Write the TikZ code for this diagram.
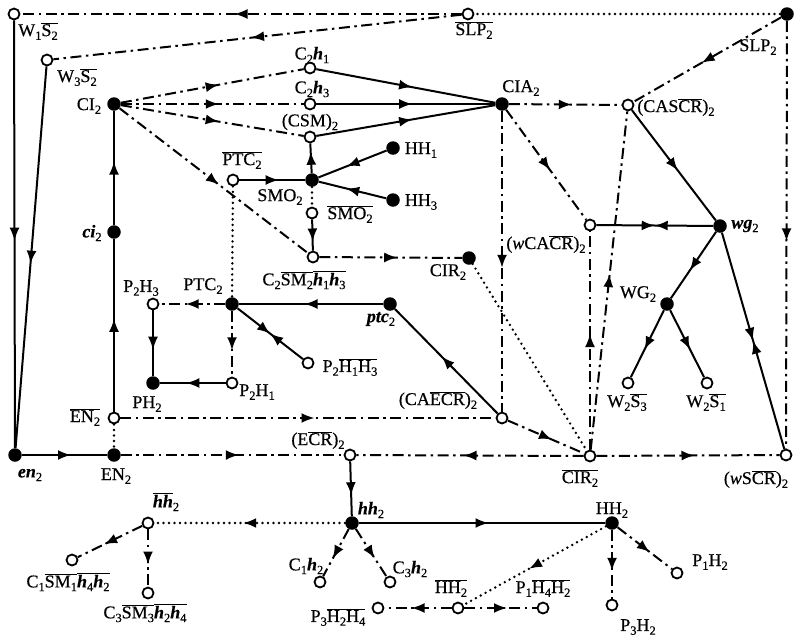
\documentclass[tikz,border=0pt]{standalone}
\usepackage{fontspec}
\setmainfont{Liberation Serif}[FakeBold=0.5]
\usetikzlibrary{arrows.meta,decorations.markings}
\newcommand\sbx[1]{\raisebox{-0.45ex}{\fontsize{12.5}{12.5}\selectfont #1}}
\newcommand\ovl[1]{$\overline{\mbox{#1}}$}
\newcommand\bix[1]{\textbf{\textit{#1}}}
\tikzset{
  op/.style={circle,draw,fill=white,line width=1.8pt,minimum size=11pt,inner sep=0pt},
  fi/.style={circle,fill=black,minimum size=13.5pt,inner sep=0pt},
  lbl/.style={inner sep=0pt},
  sl/.style={line width=2pt},
  dd/.style={line width=2pt,dash pattern=on 11pt off 4.5pt on 2.5pt off 4.5pt},
  dt/.style={line width=2.7pt,line cap=round,dash pattern=on 0pt off 5.5pt},
  tipA/.tip={Latex[length=13pt,width=10pt]},
  ma/.style={postaction={decorate,decoration={markings,mark=at position #1 with {\pgftransformxshift{6.5pt}\arrow{tipA}}}}},
  ma/.default=0.5,
  mm/.style={postaction={decorate,decoration={markings,mark=at position #1 with {\arrow{tipA}\arrowreversed{tipA}}}}},
  mm/.default=0.5
}
\begin{document}
\begin{tikzpicture}[x=1pt,y=-1pt,font=\fontsize{18}{20}\selectfont]
\useasboundingbox (0,0) rectangle (800,643);
% nodes
\node[op] (W1S2) at (14,14) {};
\node[op] (SLPb) at (468,14) {};
\node[fi] (TR) at (787,14) {};
\node[op] (W3S2) at (47,60) {};
\node[op] (C2h1) at (310,68) {};
\node[op] (C2h3) at (310,104) {};
\node[op] (CSM2) at (310,137) {};
\node[fi] (CI2) at (114,104) {};
\node[fi] (CIA2) at (502,104) {};
\node[op] (CASCR) at (628,105) {};
\node[op] (PTCb) at (233,180) {};
\node[fi] (SMO2) at (312,180) {};
\node[fi] (HH1) at (393,148) {};
\node[fi] (HH3) at (393,200) {};
\node[op] (SMOb) at (312,213) {};
\node[op] (C2SM) at (313,257) {};
\node[fi] (CIR2) at (469,258) {};
\node[op] (wCACR) at (590,225) {};
\node[fi] (wg2) at (720,226) {};
\node[fi] (ci2) at (114,232) {};
\node[fi] (PTC2) at (232,304) {};
\node[op] (P2H3) at (153,304) {};
\node[fi] (ptc2) at (390,304) {};
\node[fi] (WG2) at (667,304) {};
\node[op] (P2H1H3) at (308,363) {};
\node[fi] (PH2) at (153,383) {};
\node[op] (P2H1) at (232,383) {};
\node[op] (W2S3) at (628,383) {};
\node[op] (W2S1) at (707,383) {};
\node[op] (EN2b) at (114,418) {};
\node[op] (CAECR) at (502,418) {};
\node[fi] (en2) at (15,455) {};
\node[fi] (EN2) at (114,455) {};
\node[op] (ECR2) at (350,455) {};
\node[op] (CIRb) at (590,456) {};
\node[op] (wSCR) at (786,455) {};
\node[op] (hh2b) at (148,523) {};
\node[fi] (hh2) at (352,523) {};
\node[fi] (HH2) at (612,523) {};
\node[op] (C1SM) at (72,560) {};
\node[op] (C1h2) at (320,582) {};
\node[op] (C3h2) at (390,582) {};
\node[op] (C3SM) at (148,593) {};
\node[op] (P1H2) at (677,573) {};
\node[op] (P3H2) at (612,605) {};
\node[op] (P3H2H4) at (378,608) {};
\node[op] (HH2b) at (458,608) {};
\node[op] (P1H4H2) at (543,608) {};
% labels
\node[lbl] (lW1S2) at (38,31) {W\sbx{1}\ovl{S\sbx{2}}};
\node[lbl] (lSLPb) at (474,30) {\ovl{SLP\sbx{2}}};
\node[lbl] (lTR) at (758,47) {SLP\sbx{2}};
\node[lbl] (lW3S2) at (77,77) {W\sbx{3}\ovl{S\sbx{2}}};
\node[lbl] (lC2h1) at (312,55) {C\sbx{2}\bix{h}\sbx{1}};
\node[lbl] (lC2h3) at (312,89) {C\sbx{2}\bix{h}\sbx{3}};
\node[lbl] (lCSM2) at (310,122) {(CSM)\sbx{2}};
\node[lbl] (lCI2) at (89,106) {CI\sbx{2}};
\node[lbl] (lCIA2) at (521,88) {CIA\sbx{2}};
\node[lbl] (lCASCR) at (676,107) {(CAS\ovl{CR})\sbx{2}};
\node[lbl] (lPTCb) at (242,160) {\ovl{PTC\sbx{2}}};
\node[lbl] (lSMO2) at (280,197) {SMO\sbx{2}};
\node[lbl] (lSMOb) at (350,214) {\ovl{SMO\sbx{2}}};
\node[lbl] (lHH1) at (421,150) {HH\sbx{1}};
\node[lbl] (lHH3) at (421,202) {HH\sbx{3}};
\node[lbl] (lC2SM) at (304,280) {C\sbx{2}\ovl{SM\sbx{2}}\ovl{\bix{h}\sbx{1}}\ovl{\bix{h}\sbx{3}}};
\node[lbl] (lCIR2) at (448,272) {CIR\sbx{2}};
\node[lbl] (lwCACR) at (546,244) {(\textit{w}CA\ovl{CR})\sbx{2}};
\node[lbl] (lwg2) at (745,226) {\bix{wg}\sbx{2}};
\node[lbl] (lWG2) at (638,294) {WG\sbx{2}};
\node[lbl] (lW2S3) at (627,402) {W\sbx{2}\ovl{S\sbx{3}}};
\node[lbl] (lW2S1) at (706,402) {W\sbx{2}\ovl{S\sbx{1}}};
\node[lbl] (lci2) at (92,233) {\bix{ci}\sbx{2}};
\node[lbl] (lP2H3) at (141,288) {P\sbx{2}H\sbx{3}};
\node[lbl] (lPTC2) at (203,286) {PTC\sbx{2}};
\node[lbl] (lptc2) at (381,319) {\bix{ptc}\sbx{2}};
\node[lbl] (lP2H1H3) at (350,367) {P\sbx{2}\ovl{H\sbx{1}}\ovl{H\sbx{3}}};
\node[lbl] (lPH2) at (147,404) {PH\sbx{2}};
\node[lbl] (lP2H1) at (257,392) {P\sbx{2}H\sbx{1}};
\node[lbl] (lEN2b) at (85,417) {\ovl{EN\sbx{2}}};
\node[lbl] (lCAECR) at (438,400) {(CA\ovl{ECR})\sbx{2}};
\node[lbl] (len2) at (30,475) {\bix{en}\sbx{2}};
\node[lbl] (lEN2) at (116,476) {EN\sbx{2}};
\node[lbl] (lECR2) at (318,440) {(E\ovl{CR})\sbx{2}};
\node[lbl] (lCIRb) at (580,478) {\ovl{CIR\sbx{2}}};
\node[lbl] (lwSCR) at (756,479) {(\textit{w}S\ovl{CR})\sbx{2}};
\node[lbl] (lhh2b) at (166,502) {\ovl{\bix{hh}}\sbx{2}};
\node[lbl] (lhh2) at (371,510) {\bix{hh}\sbx{2}};
\node[lbl] (lHH2) at (612,510) {HH\sbx{2}};
\node[lbl] (lC1SM) at (68,582) {C\sbx{1}\ovl{SM\sbx{1}}\ovl{\bix{h}\sbx{4}}\ovl{\bix{h}\sbx{2}}};
\node[lbl] (lC3SM) at (145,613) {C\sbx{3}\ovl{SM\sbx{3}}\ovl{\bix{h}\sbx{2}}\ovl{\bix{h}\sbx{4}}};
\node[lbl] (lC1h2) at (306,566) {C\sbx{1}\bix{h}\sbx{2}};
\node[lbl] (lC3h2) at (410,569) {C\sbx{3}\bix{h}\sbx{2}};
\node[lbl] (lP3H2H4) at (338,617) {P\sbx{3}\ovl{H\sbx{2}}\ovl{H\sbx{4}}};
\node[lbl] (lHH2b) at (451,588) {\ovl{HH\sbx{2}}};
\node[lbl] (lP1H4H2) at (543,588) {P\sbx{1}\ovl{H\sbx{4}}\ovl{H\sbx{2}}};
\node[lbl] (lP3H2) at (638,627) {P\sbx{3}H\sbx{2}};
\node[lbl] (lP1H2) at (710,562) {P\sbx{1}H\sbx{2}};
% edges
\draw[dt] (TR) -- (SLPb);
\draw[dd,ma] (SLPb) -- (W1S2);
\draw[dd,ma] (SLPb) -- (W3S2);
\draw[sl,ma] (W1S2) -- (en2);
\draw[sl,ma] (W3S2) -- (en2);
\draw[sl,ma] (en2) -- (EN2);
\draw[dt] (EN2b) -- (EN2);
\draw[sl,ma] (EN2b) -- (ci2);
\draw[sl,ma] (ci2) -- (CI2);
\draw[dd,ma] (CI2) -- (C2h1);
\draw[dd,ma] (CI2) -- (C2h3);
\draw[dd,ma] (CI2) -- (CSM2);
\draw[dd,ma] (CI2) -- (C2SM);
\draw[sl,ma] (C2h1) -- (CIA2);
\draw[sl,ma] (C2h3) -- (CIA2);
\draw[sl,ma] (CSM2) -- (CIA2);
\draw[sl,ma] (PTCb) -- (SMO2);
\draw[sl,ma] (SMO2) -- (CSM2);
\draw[sl,ma] (HH1) -- (SMO2);
\draw[sl,ma] (HH3) -- (SMO2);
\draw[dt] (SMO2) -- (SMOb);
\draw[sl,ma] (SMOb) -- (C2SM);
\draw[dd,ma] (C2SM) -- (CIR2);
\draw[dt] (CIR2) -- (CIRb);
\draw[dt] (PTCb) -- (PTC2);
\draw[sl,ma] (ptc2) -- (PTC2);
\draw[dd,ma] (PTC2) -- (P2H3);
\draw[sl,ma] (P2H3) -- (PH2);
\draw[sl,ma] (P2H1) -- (PH2);
\draw[dd,ma] (PTC2) -- (P2H1);
\draw[sl,mm] (PTC2) -- (P2H1H3);
\draw[sl,ma] (CAECR) -- (ptc2);
\draw[dd,ma] (EN2b) -- (CAECR);
\draw[dd,ma] (CAECR) -- (CIRb);
\draw[dd,ma] (CIA2) -- (CAECR);
\draw[dd,ma] (CIA2) -- (wCACR);
\draw[dd,ma] (CIA2) -- (CASCR);
\draw[dd,ma] (TR) -- (CASCR);
\draw[sl,ma] (CASCR) -- (wg2);
\draw[sl,mm] (wCACR) -- (wg2);
\draw[sl,ma] (wg2) -- (WG2);
\draw[sl,ma] (WG2) -- (W2S3);
\draw[sl,ma] (WG2) -- (W2S1);
\draw[sl,mm] (wg2) -- (wSCR);
\draw[dd,ma] (TR) -- (wSCR);
\draw[dd,ma] (CIRb) -- (wSCR);
\draw[dd,ma] (CIRb) -- (ECR2);
\draw[dd,ma] (EN2) -- (ECR2);
\draw[dd,ma] (CIRb) -- (wCACR);
\draw[dd,ma] (CIRb) -- (CASCR);
\draw[sl,ma] (ECR2) -- (hh2);
\draw[dt,ma] (hh2) -- (hh2b);
\draw[sl,ma] (hh2) -- (HH2);
\draw[dd,ma] (hh2b) -- (C1SM);
\draw[dd,ma] (hh2b) -- (C3SM);
\draw[dd,ma] (hh2) -- (C1h2);
\draw[dd,ma] (hh2) -- (C3h2);
\draw[dt,ma] (HH2) -- (HH2b);
\draw[dd,ma] (HH2b) -- (P3H2H4);
\draw[dd,ma] (HH2b) -- (P1H4H2);
\draw[dd,ma] (HH2) -- (P3H2);
\draw[dd,ma] (HH2) -- (P1H2);
\end{tikzpicture}
\end{document}
